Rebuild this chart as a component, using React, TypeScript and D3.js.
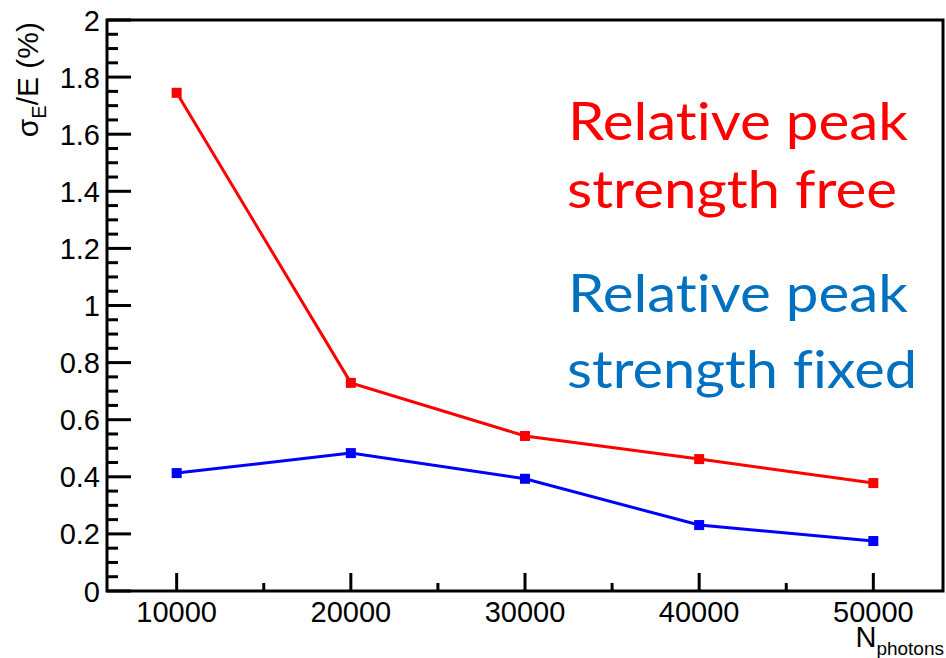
import React from "react";
import * as d3 from "d3";

const nPhotons = [10000, 20000, 30000, 40000, 50000];
const peakFree = [1.745, 0.729, 0.543, 0.462, 0.378];
const peakFixed = [0.413, 0.483, 0.393, 0.231, 0.175];
const xDomain = [6000, 54000];
const yDomain = [0, 2];

const W = 946;
const H = 658;
const AX = "'Liberation Sans', Arial, Helvetica, sans-serif";
const ANN = "Lato, 'Open Sans', 'Noto Sans', sans-serif";

export default function App() {
  const x = d3.scaleLinear().domain(xDomain).range([107, 943]);
  const y = d3.scaleLinear().domain(yDomain).range([591, 20]);
  const yMajor = y.ticks(10);
  const yMinor = y.ticks(40).filter((v) => !yMajor.some((m) => Math.abs(m - v) < 1e-9));
  const xMajor = x.ticks(5);
  const xMinor = d3.range(5000, 55000, 10000).filter((v) => v >= xDomain[0] && v <= xDomain[1]);
  const line = d3
    .line<number>()
    .x((_, i) => x(nPhotons[i]))
    .y((d) => y(d));
  const series = [
    { vals: peakFree, color: "#ff0000" },
    { vals: peakFixed, color: "#0000ff" },
  ];
  const ms = 10;
  const annStyle = {
    fontVariantLigatures: "none",
    fontFeatureSettings: "'liga' 0, 'clig' 0, 'dlig' 0",
  } as React.CSSProperties;
  return (
    <svg
      width={W}
      height={H}
      style={{ position: "absolute", left: 0, top: 0, background: "#fff" }}
    >
      <rect x={0} y={0} width={W} height={H} fill="#fff" />
      {/* frame */}
      <rect
        x={x.range()[0]}
        y={y.range()[1]}
        width={x.range()[1] - x.range()[0]}
        height={y.range()[0] - y.range()[1]}
        fill="none"
        stroke="#000"
        strokeWidth={3}
      />
      {/* y ticks */}
      {yMajor.map((v) => (
        <g key={"ym" + v}>
          <line x1={107} x2={131} y1={y(v)} y2={y(v)} stroke="#000" strokeWidth={3} />
          <text
            x={100}
            y={y(v) + 10.5}
            textAnchor="end"
            fontFamily={AX}
            fontSize={29}
            fill="#000"
          >
            {d3.format("~g")(v)}
          </text>
        </g>
      ))}
      {yMinor.map((v) => (
        <line key={"yn" + v} x1={107} x2={118} y1={y(v)} y2={y(v)} stroke="#000" strokeWidth={3} />
      ))}
      {/* x ticks */}
      {xMajor.map((v) => (
        <g key={"xm" + v}>
          <line x1={x(v)} x2={x(v)} y1={591} y2={573} stroke="#000" strokeWidth={3} />
          <text
            x={x(v)}
            y={622}
            textAnchor="middle"
            fontFamily={AX}
            fontSize={29}
            fill="#000"
          >
            {v}
          </text>
        </g>
      ))}
      {xMinor.map((v) => (
        <line key={"xn" + v} x1={x(v)} x2={x(v)} y1={591} y2={583} stroke="#000" strokeWidth={3} />
      ))}
      {/* axis titles */}
      <text
        transform="translate(38,22) rotate(-90)"
        textAnchor="end"
        fontFamily={AX}
        fontSize={30}
        fill="#000"
      >
        σ
        <tspan fontSize={20} dy={8}>E</tspan>
        <tspan dy={-8}>/E (%)</tspan>
      </text>
      <text x={944} y={647} textAnchor="end" fontFamily={AX} fontSize={29} fill="#000">
        N
        <tspan fontSize={19} dy={8}>photons</tspan>
      </text>
      {/* series */}
      {series.map((s, si) => (
        <g key={"s" + si}>
          <path d={line(s.vals) || ""} fill="none" stroke={s.color} strokeWidth={3} />
          {s.vals.map((v, i) => (
            <rect
              key={i}
              x={x(nPhotons[i]) - ms / 2}
              y={y(v) - ms / 2}
              width={ms}
              height={ms}
              fill={s.color}
            />
          ))}
        </g>
      ))}
      {/* annotations */}
      <g fontFamily={ANN} fontSize={53} style={annStyle}>
        <text x={568} y={140} fill="#ff0000" textLength={340} lengthAdjust="spacingAndGlyphs" style={annStyle}>
          Relative peak
        </text>
        <text x={567} y={208} fill="#ff0000" textLength={330} lengthAdjust="spacingAndGlyphs" style={annStyle}>
          strength free
        </text>
        <text x={568} y={312} fill="#0070c0" textLength={340} lengthAdjust="spacingAndGlyphs" style={annStyle}>
          Relative peak
        </text>
        <text x={567} y={388} fill="#0070c0" textLength={350} lengthAdjust="spacingAndGlyphs" style={annStyle}>
          strength fixed
        </text>
      </g>
    </svg>
  );
}
